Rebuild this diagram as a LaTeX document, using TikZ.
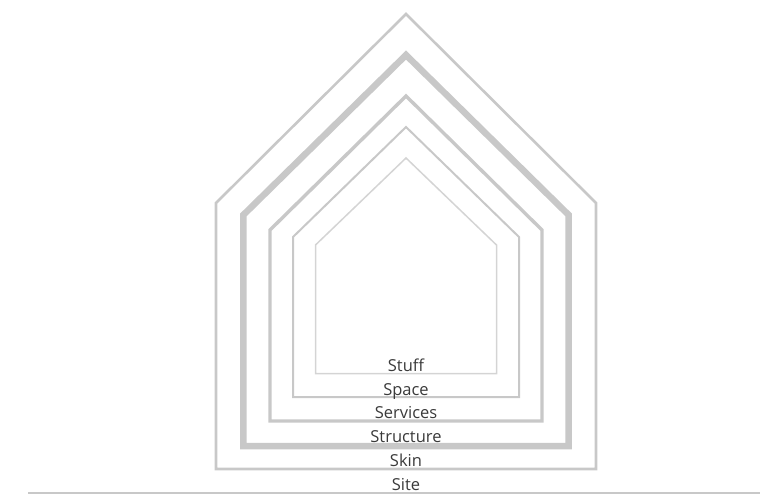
\documentclass[tikz,border=0pt]{standalone}
\usepackage{fontspec}
\setmainfont{Open Sans}
\definecolor{linegray}{HTML}{C8C8C8}
\definecolor{lightgray}{HTML}{D4D4D4}
\definecolor{textgray}{HTML}{3A3A3A}

\begin{document}
\begin{tikzpicture}[
    x=1pt, y=-1pt,
    layer/.style={draw=linegray, line join=miter},
    layertext/.style={font=\fontsize{16.5}{19}\selectfont, text=textgray,
                      anchor=base, inner sep=0pt}
]
\useasboundingbox (0,0) rectangle (760,495);
% ground
\coordinate (groundleft) at (28,493);
\coordinate (groundright) at (760,493);
\draw[layer, line width=2pt] (groundleft) -- (groundright);
% skin
\draw[layer, line width=2.6pt] (216,469) -- (216,203) -- (406,14) -- (596,203) -- (596,469) -- cycle;
% structure
\draw[layer, line width=6.5pt] (243.3,446) -- (243.3,215) -- (406,55) -- (568.7,215) -- (568.7,446) -- cycle;
% services
\draw[layer, line width=3.4pt] (270,421) -- (270,230) -- (406,96) -- (542,230) -- (542,421) -- cycle;
% space
\draw[layer, line width=2pt] (293,397) -- (293,237) -- (406,127) -- (519,237) -- (519,397) -- cycle;
% stuff
\draw[layer, draw=lightgray, line width=1.5pt] (315.5,373.5) -- (315.5,245) -- (406,158) -- (496.5,245) -- (496.5,373.5) -- cycle;
% labels
\node[layertext] (stuff) at (406,371) {Stuff};
\node[layertext] (space) at (406,395) {Space};
\node[layertext] (services) at (406,418) {Services};
\node[layertext] (structure) at (406,442) {Structure};
\node[layertext] (skin) at (406,466) {Skin};
\node[layertext] (site) at (406,490) {Site};
\end{tikzpicture}
\end{document}
